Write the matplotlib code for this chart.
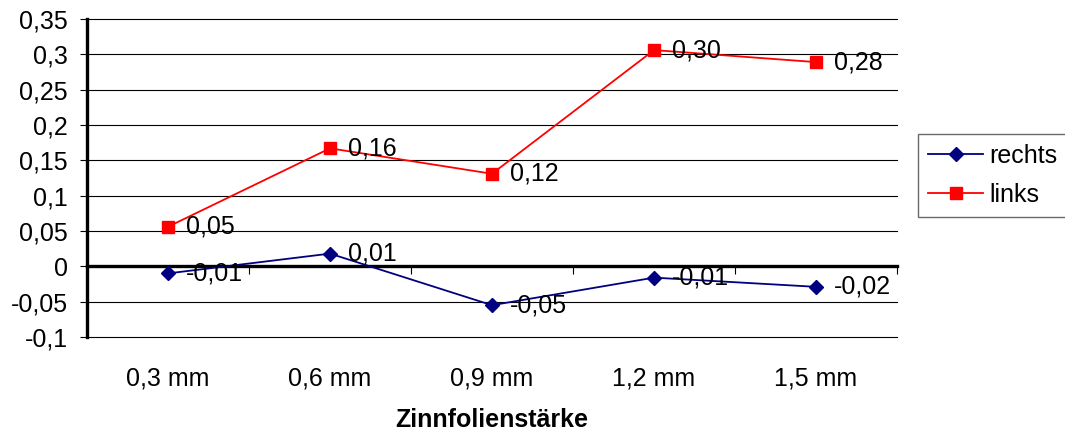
import matplotlib
matplotlib.use("Agg")
import matplotlib.pyplot as plt
from matplotlib.ticker import FuncFormatter

plt.rcParams['font.family'] = ['Liberation Sans', 'DejaVu Sans']

categories = ["0,3 mm", "0,6 mm", "0,9 mm", "1,2 mm", "1,5 mm"]
rechts = [-0.010, 0.018, -0.055, -0.016, -0.029]
links = [0.056, 0.167, 0.131, 0.306, 0.289]
rechts_labels = ["-0,01", "0,01", "-0,05", "-0,01", "-0,02"]
links_labels = ["0,05", "0,16", "0,12", "0,30", "0,28"]
y_ticks = [-0.1, -0.05, 0, 0.05, 0.1, 0.15, 0.2, 0.25, 0.3, 0.35]
x_title = "Zinnfolienstärke"

FS = 18

fig = plt.figure(figsize=(10.65, 4.34), dpi=100)
ax = fig.add_axes([87/1065, 1-337/434, (897-87)/1065, (337-19)/434])

x = list(range(len(categories)))
ax.set_xlim(-0.5, len(categories) - 0.5)
ax.set_ylim(y_ticks[0], y_ticks[-1])

ax.set_yticks(y_ticks)
ax.yaxis.set_major_formatter(FuncFormatter(lambda v, p: f"{v:g}".replace('.', ',') if abs(v) > 1e-12 else "0"))
ax.grid(axis='y', color='black', linewidth=0.8)
ax.set_axisbelow(True)
for gl in ax.get_ygridlines():
    gl.set_clip_on(False)

ax.spines['top'].set_visible(False)
ax.spines['right'].set_visible(False)
ax.spines['bottom'].set_visible(False)
ax.spines['left'].set_linewidth(2.4)
ax.spines['left'].set_color('black')

ax.tick_params(axis='y', direction='out', length=5, width=0.8, pad=9, labelsize=FS, colors='black')
ax.set_xticks(x)
ax.set_xticklabels(categories)
ax.tick_params(axis='x', length=0, pad=21, labelsize=FS)
ax.set_xlabel(x_title, fontsize=FS, fontweight='bold', labelpad=13)

# zero axis with tick marks between categories
zero_pos = (0 - y_ticks[0]) / (y_ticks[-1] - y_ticks[0])
sec = ax.secondary_xaxis(zero_pos)
sec.set_xticks([i + 0.5 for i in x[:-1]] + [-0.5, x[-1] + 0.5])
sec.set_xticklabels([])
sec.spines['bottom'].set_linewidth(2.4)
sec.spines['bottom'].set_color('black')
sec.tick_params(axis='x', direction='out', length=6, width=0.8, colors='black')

l1, = ax.plot(x, rechts, color='#000080', marker='D', markersize=7.5, linewidth=1.3,
              label='rechts', zorder=4, clip_on=False)
l2, = ax.plot(x, links, color='#FF0000', marker='s', markersize=8.5, linewidth=1.3,
              label='links', zorder=4, clip_on=False)

for xi, v, t in zip(x, rechts, rechts_labels):
    ax.annotate(t, (xi, v), xytext=(13, 0), textcoords='offset points',
                ha='left', va='center', fontsize=FS, color='black', zorder=5)
for xi, v, t in zip(x, links, links_labels):
    ax.annotate(t, (xi, v), xytext=(13, 0), textcoords='offset points',
                ha='left', va='center', fontsize=FS, color='black', zorder=5)

leg = fig.legend(handles=[l1, l2], loc='upper left', bbox_to_anchor=(918/1065, 1-134/434),
                 borderaxespad=0, fontsize=FS, frameon=True, fancybox=False,
                 handlelength=2.2, handletextpad=0.25, borderpad=0.4, labelspacing=0.6)
leg.get_frame().set_edgecolor('#444444')
leg.get_frame().set_linewidth(1.0)

fig.savefig('out.png', dpi=100)
